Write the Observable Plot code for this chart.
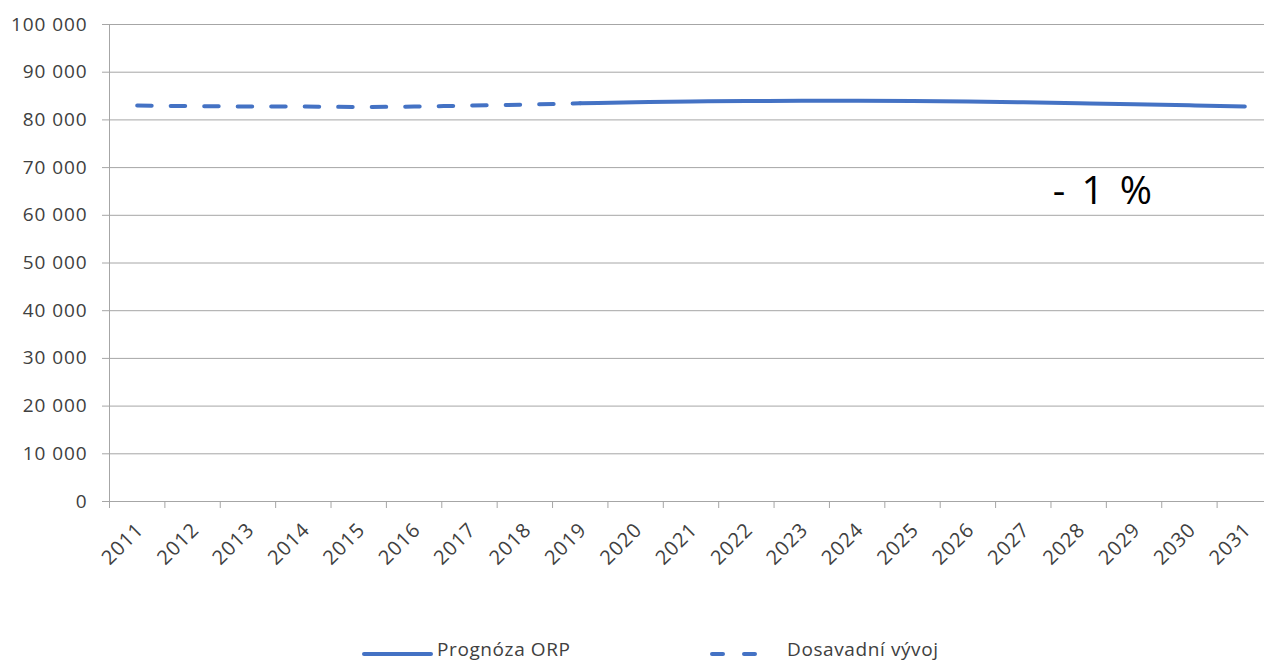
<!DOCTYPE html>
<html>
<head>
<meta charset="utf-8">
<script src="https://cdn.jsdelivr.net/npm/d3@7"></script>
<script src="https://cdn.jsdelivr.net/npm/@observablehq/plot@0.6"></script>
<style>
  html, body { margin: 0; padding: 0; background: #fff; overflow: hidden; }
  #chart svg { display: block; }
  #legend { position: relative; width: 1264px; height: 24px; font-family: "Open Sans", sans-serif; font-weight: 400; font-size: 19px; letter-spacing: 0.6px; color: #404040; }
  #legend svg { position: absolute; top: 0; }
  #legend span { position: absolute; top: -4px; white-space: nowrap; }
</style>
</head>
<body>
<div id="chart"></div>
<div id="legend"></div>
<script>
const years = [2011,2012,2013,2014,2015,2016,2017,2018,2019,2020,2021,2022,2023,2024,2025,2026,2027,2028,2029,2030,2031];
const histYears = [2011,2012,2013,2014,2015,2016,2017,2018,2019];
const histValues = [83000,82900,82800,82800,82700,82800,83000,83200,83500];
const progYears = [2019,2020,2021,2022,2023,2024,2025,2026,2027,2028,2029,2030,2031];
const progValues = [83500,83700,83850,83950,84000,84000,83950,83850,83700,83500,83300,83050,82800];
const yTicks = [0,10000,20000,30000,40000,50000,60000,70000,80000,90000,100000];
const seriesNames = ["Prognóza ORP", "Dosavadní vývoj"];
const annotation = "- 1 %";
const annotationPos = {x: 2028.42, y: 65000};

const hist = histYears.map((x, i) => ({x, y: histValues[i]}));
const prog = progYears.map((x, i) => ({x, y: progValues[i]}));
const boundaries = [years[0] - 0.5, ...years.map(y => y + 0.5)];

const blue = "#4472C4";
const grid = "#a6a6a6";
const fmt = v => d3.format(",")(v).replace(/,/g, "\u00a0");

const chart = Plot.plot({
  width: 1264,
  height: 640,
  marginLeft: 109,
  marginRight: -8,
  marginTop: 24,
  marginBottom: 139,
  style: {fontFamily: "'Open Sans', sans-serif", fontSize: "19px", fontWeight: 400, letterSpacing: "0.9px", color: "#404040", background: "#fff"},
  x: {type: "linear", domain: [years[0] - 0.5, years[years.length - 1] + 0.5]},
  y: {domain: [0, 100000]},
  marks: [
    Plot.gridY(yTicks, {stroke: grid, strokeOpacity: 1, strokeWidth: 1}),
    Plot.ruleX([boundaries[0]], {stroke: grid, strokeWidth: 1}),
    Plot.axisY(yTicks, {tickSize: 7, tickPadding: 15, tickFormat: fmt, stroke: grid, fill: "#404040", label: null}),
    Plot.axisX(boundaries, {tickSize: 7, tickFormat: () => "", stroke: grid, label: null}),
    Plot.axisX(years, {tickSize: 0, tickPadding: 25, dx: 3, fontSize: 20, tickRotate: -45, tickFormat: d => String(d), fill: "#404040", label: null}),
    Plot.line(hist, {x: "x", y: "y", stroke: blue, strokeWidth: 4, strokeDasharray: "14.5,19", strokeLinecap: "round", curve: "monotone-x"}),
    Plot.line(prog, {x: "x", y: "y", stroke: blue, strokeWidth: 4, strokeLinecap: "round", curve: "monotone-x"}),
    Plot.text([annotationPos], {x: "x", y: "y", dx: 2, text: () => annotation, fontSize: 39, fontWeight: 400, fill: "#000", textAnchor: "middle", lineAnchor: "middle"})
  ]
});
document.getElementById("chart").appendChild(chart);
chart.querySelectorAll("text").forEach(t => { if (t.textContent === annotation) t.style.letterSpacing = "3px"; });

// Legend
const legend = d3.select("#legend");
const items = [
  {name: seriesNames[0], x1: 364, x2: 431, textX: 437, dash: null},
  {name: seriesNames[1], x1: 712, x2: 758, textX: 787, dash: "11,21"}
];
items.forEach(it => {
  const s = legend.append("svg").attr("width", 1264).attr("height", 24).style("left", "0px");
  s.append("line").attr("x1", it.x1).attr("x2", it.x2).attr("y1", 14).attr("y2", 14)
    .attr("stroke", blue).attr("stroke-width", 4).attr("stroke-linecap", "round")
    .attr("stroke-dasharray", it.dash);
  legend.append("span").style("left", it.textX + "px").text(it.name);
});
</script>
</body>
</html>
